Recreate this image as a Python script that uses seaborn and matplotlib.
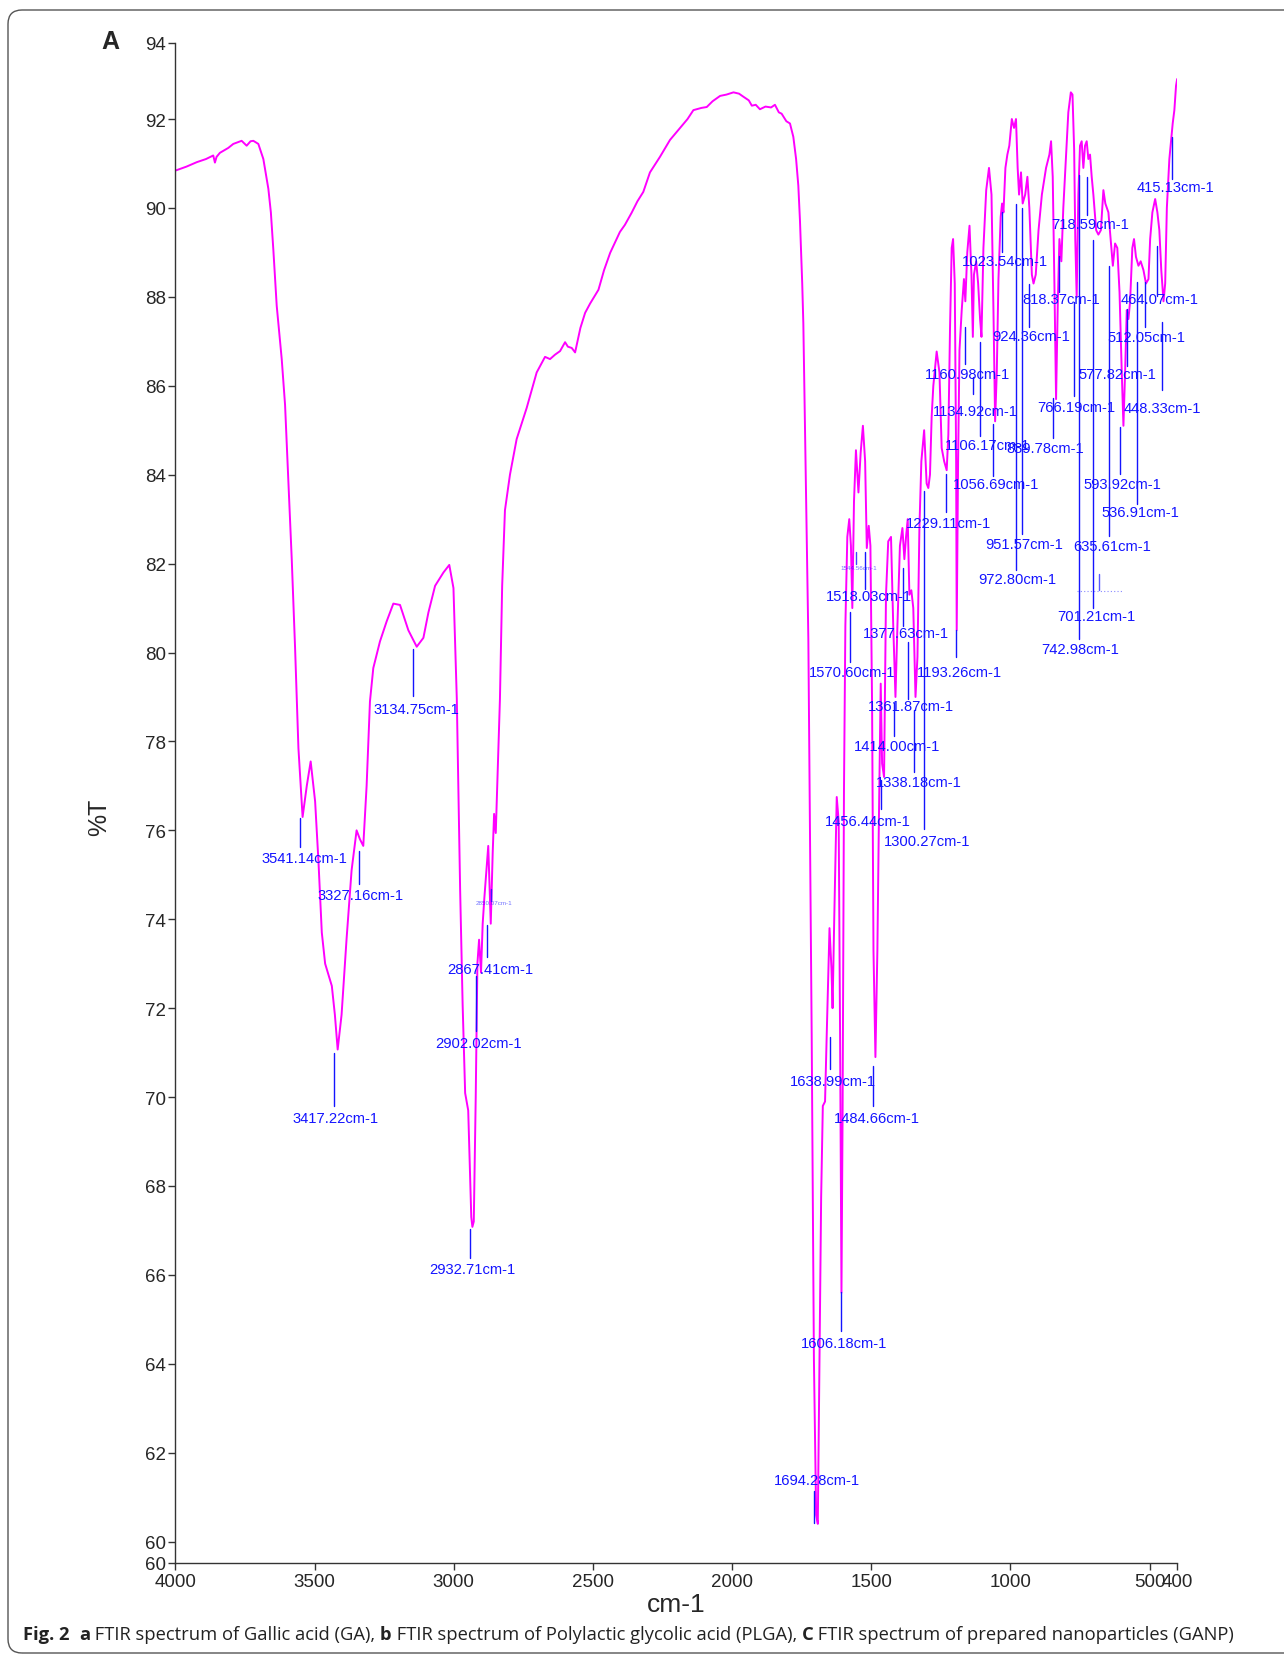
import numpy as np
import pandas as pd
import matplotlib
matplotlib.use("Agg")
import matplotlib.pyplot as plt
import seaborn as sns
from matplotlib.patches import FancyBboxPatch

# -------------------------------
# 1. Spectrum values (wavenumber cm-1, %T)
# -------------------------------
# baseline + O-H stretch
oh_wn = [4000, 3960, 3923, 3890, 3864, 3858, 3852, 3840, 3810, 3792, 3762, 3744, 3730, 3720,
         3702, 3684, 3666, 3657, 3648, 3636, 3618, 3606, 3594, 3582, 3570, 3558, 3543, 3528,
         3514, 3498, 3486, 3474, 3462, 3438, 3427, 3417, 3403, 3385, 3367, 3349, 3337, 3325,
         3313, 3301, 3289, 3265, 3241, 3217, 3193, 3163, 3133, 3109, 3091, 3067, 3037, 3016, 3001]
oh_t = [90.84, 90.93, 91.03, 91.10, 91.18, 91.02, 91.15, 91.24, 91.35, 91.44, 91.51, 91.40, 91.50, 91.51,
        91.44, 91.10, 90.43, 89.90, 89.05, 87.8, 86.6, 85.57, 83.85, 82.1, 80.1, 77.85, 76.3, 77.0,
        77.55, 76.65, 75.3, 73.7, 73.0, 72.5, 71.85, 71.07, 71.85, 73.56, 75.1, 76.0, 75.8, 75.65,
        77.0, 78.9, 79.65, 80.25, 80.7, 81.1, 81.07, 80.5, 80.13, 80.33, 80.9, 81.5, 81.8, 81.97, 81.45]

# C-H stretch
ch_wn = [2989, 2977, 2968, 2959, 2948, 2937, 2933, 2928, 2921, 2915, 2909, 2902, 2896, 2890,
         2876, 2867, 2860, 2855, 2849, 2834, 2826, 2816, 2798, 2774, 2738, 2702, 2672]
ch_t = [78.96, 74.66, 72.07, 70.09, 69.7, 67.3, 67.08, 67.2, 70.0, 73.0, 73.54, 72.8, 73.9, 74.48,
        75.65, 73.9, 75.5, 76.37, 75.94, 78.96, 81.5, 83.2, 84.0, 84.8, 85.5, 86.3, 86.65]

# broad plateau
plateau_wn = [2654, 2636, 2618, 2600, 2590, 2576, 2564, 2545, 2528, 2510, 2480, 2460, 2438, 2403,
              2385, 2361, 2340, 2319, 2295, 2259, 2223, 2187, 2160, 2139, 2110, 2091, 2070, 2043,
              2020, 1995, 1975, 1959, 1940, 1929, 1915, 1900, 1880, 1860, 1846, 1832, 1822, 1805,
              1792, 1780, 1770, 1762, 1756, 1748, 1744]
plateau_t = [86.6, 86.7, 86.78, 86.98, 86.88, 86.85, 86.75, 87.3, 87.64, 87.85, 88.16, 88.6, 88.99, 89.46,
             89.62, 89.89, 90.15, 90.36, 90.8, 91.15, 91.53, 91.8, 92.0, 92.2, 92.25, 92.27, 92.4, 92.52,
             92.55, 92.6, 92.57, 92.5, 92.42, 92.3, 92.32, 92.22, 92.28, 92.26, 92.32, 92.15, 92.12, 91.95,
             91.9, 91.6, 91.1, 90.5, 89.7, 88.3, 87.4]

# C=O / aromatic region
co_wn = [1738, 1732, 1726, 1714, 1706, 1698, 1692, 1686, 1680, 1674, 1666, 1660, 1650, 1643,
         1639, 1633, 1624, 1617, 1612, 1607, 1603, 1598, 1593, 1586, 1579, 1573, 1568, 1562,
         1555, 1546, 1538, 1530, 1522, 1516, 1509, 1503, 1497, 1492, 1485, 1478, 1473, 1466,
         1461, 1454, 1447, 1439, 1429, 1421, 1413, 1406, 1397, 1388, 1381, 1375, 1369, 1363,
         1356, 1349, 1341, 1334, 1327, 1320, 1310, 1301, 1295, 1289, 1283, 1277, 1265, 1255,
         1247, 1238, 1229, 1223, 1217, 1211, 1206, 1200, 1195, 1193, 1188]
co_t = [85.0, 82.5, 80.3, 71.4, 64.1, 60.6, 60.4, 64.1, 67.75, 69.8, 69.9, 71.4, 73.8, 72.9,
        72.0, 74.0, 76.75, 76.2, 71.4, 65.6, 69.6, 76.9, 80.6, 82.6, 83.0, 82.4, 81.0, 83.4,
        84.55, 83.6, 84.5, 85.1, 84.3, 82.35, 82.85, 82.4, 78.8, 73.3, 70.9, 73.3, 76.0, 79.3,
        77.5, 77.2, 81.3, 82.5, 82.6, 80.6, 79.0, 80.6, 82.4, 82.8, 82.1, 82.6, 83.0, 81.3,
        81.4, 81.0, 79.0, 79.9, 82.8, 84.3, 85.0, 83.8, 83.7, 84.0, 85.3, 86.0, 86.77, 86.3,
        84.6, 84.3, 84.1, 84.9, 87.3, 89.1, 89.3, 88.3, 84.3, 80.5, 84.3]

# fingerprint region
fp_wn = [1183, 1175, 1167, 1162, 1155, 1147, 1140, 1135, 1131, 1123, 1116, 1109, 1104, 1097,
         1087, 1077, 1068, 1061, 1055, 1049, 1043, 1035, 1030, 1025, 1018, 1011, 1004, 995,
         987, 980, 974, 969, 962, 956, 947, 939, 932, 923, 917, 909, 899, 887, 872, 860,
         854, 848, 842, 836, 830, 824, 817, 810, 800, 792, 783, 777, 771, 767, 762, 756,
         750, 744, 738, 732, 726, 720, 714, 708, 702, 692, 684, 675, 666, 659, 648, 640,
         632, 624, 616, 608, 600, 594, 588, 582, 576, 570, 562, 556, 549, 540, 532, 522,
         513, 504, 498, 490, 480, 472, 465, 458, 450, 444, 438, 429, 423, 417, 411, 405, 401]
fp_t = [86.8, 87.7, 88.4, 87.9, 89.0, 89.6, 88.5, 87.1, 88.5, 88.8, 88.3, 87.5, 87.1, 89.1,
        90.4, 90.9, 90.3, 87.7, 85.2, 86.3, 88.4, 89.8, 90.1, 89.9, 90.9, 91.2, 91.4, 92.0,
        91.8, 92.0, 90.9, 90.3, 90.8, 90.1, 90.3, 90.7, 90.0, 88.5, 88.3, 88.5, 89.5, 90.3, 90.9, 91.2,
        91.5, 90.7, 88.3, 85.7, 87.8, 89.3, 88.8, 90.0, 91.2, 92.15, 92.6, 92.55, 91.3, 89.3, 88.0, 90.3,
        91.4, 91.5, 90.9, 91.4, 91.5, 91.1, 91.2, 90.7, 90.3, 89.5, 89.4, 89.5, 90.4, 90.1, 89.9, 89.3,
        88.7, 89.2, 89.1, 88.1, 86.3, 85.1, 86.3, 87.7, 87.5, 87.9, 89.1, 89.3, 88.9, 88.7, 88.8, 88.6,
        88.3, 88.4, 89.3, 89.9, 90.2, 89.9, 89.5, 88.6, 87.9, 88.3, 90.0, 91.1, 91.5, 91.9, 92.2, 92.75, 92.9]

# peak labels printed on the spectrum
peak_values = [3541.14, 3327.16, 3417.22, 3134.75, 2867.41, 2902.02, 2932.71,
               1694.28, 1606.18, 1638.99, 1484.66, 1456.44, 1300.27, 1338.18, 1414.00,
               1361.87, 1570.60, 1193.26, 1377.63, 1518.03, 1229.11, 1056.69, 1106.17,
               1134.92, 1160.98, 1023.54, 924.36, 818.37, 766.19, 839.78, 951.57, 972.80,
               718.59, 415.13, 464.07, 512.05, 577.82, 448.33, 593.92, 536.91, 635.61,
               701.21, 742.98]
faint_values = [2850.07, 1544.56]

# label placement: text centre (wn, %T), marker line (wn, %T top, %T bottom)
label_text_pos = [(3538, 75.37), (3333, 74.54), (3424, 69.53), (3135, 78.74), (2870, 72.88),
                  (2912, 71.21), (2934, 66.13), (1694, 61.38), (1599, 64.47), (1637, 70.36),
                  (1481, 69.53), (1512, 76.20), (1299, 75.75), (1330, 77.08), (1409, 77.89),
                  (1356, 78.79), (1569, 79.57), (1182, 79.57), (1375, 80.43), (1508, 81.26),
                  (1223, 82.92), (1053, 83.78), (1083, 84.66), (1125, 85.44), (1155, 86.27),
                  (1018, 88.81), (927, 87.12), (817, 87.96), (764, 85.53), (874, 84.61),
                  (950, 82.45), (977, 81.66), (715, 89.64), (408, 90.47), (465, 87.96),
                  (510, 87.10), (616, 86.27), (453, 85.49), (597, 83.78), (533, 83.16),
                  (635, 82.40), (692, 80.83), (749, 80.09)]
label_line_pos = [(3553, 76.27, 75.63), (3340, 75.53, 74.80), (3431, 71.00, 69.81), (3147, 80.07, 79.03),
                  (2881, 73.87, 73.14), (2919, 72.73, 71.48), (2942, 67.03, 66.39), (1705, 61.14, 60.43),
                  (1610, 65.61, 64.73), (1648, 71.36, 70.64), (1493, 70.71, 69.81), (1466, 77.13, 76.49),
                  (1311, 83.63, 76.03), (1345, 78.70, 77.32), (1417, 78.86, 78.12), (1368, 80.24, 78.96),
                  (1576, 80.90, 79.79), (1197, 80.50, 79.91), (1386, 81.90, 80.59), (1523, 82.26, 81.42),
                  (1231, 84.01, 83.16), (1064, 85.15, 83.97), (1110, 86.98, 84.87), (1136, 86.20, 85.82),
                  (1163, 87.32, 86.48), (1030, 89.90, 89.00), (933, 88.29, 87.32), (825, 88.93, 88.12),
                  (772, 87.89, 85.77), (848, 85.72, 84.82), (958, 90.00, 82.66), (981, 90.09, 81.85),
                  (726, 90.69, 89.83), (419, 91.59, 90.64), (472, 89.14, 88.03), (518, 88.34, 87.32),
                  (582, 87.72, 86.44), (457, 87.43, 85.91), (605, 85.08, 84.01), (544, 88.34, 83.35),
                  (647, 88.69, 82.61), (704, 89.29, 81.00), (753, 90.73, 80.31)]
faint_text_pos = [(2855, 74.37), (1546, 81.92)]
faint_line_pos = [(2866, 74.68, 74.40), (1553, 82.26, 81.99)]

x_ticks = [4000, 3500, 3000, 2500, 2000, 1500, 1000, 500, 400]
y_ticks = [59.52, 60, 62, 64, 66, 68, 70, 72, 74, 76, 78, 80, 82, 84, 86, 88, 90, 92, 93.71]
y_tick_labels = ["60", "60", "62", "64", "66", "68", "70", "72", "74", "76", "78", "80",
                 "82", "84", "86", "88", "90", "92", "94"]

# -------------------------------
# 2. Build the frame
# -------------------------------
df = pd.DataFrame({
    "wn": oh_wn + ch_wn + plateau_wn + co_wn + fp_wn,
    "T": oh_t + ch_t + plateau_t + co_t + fp_t,
})

sns.set_style("ticks")
plt.rcParams['font.family'] = ['Liberation Sans', 'DejaVu Sans']

fig = plt.figure(figsize=(12.84, 16.56), dpi=100)
ax = fig.add_axes([0.1366, 0.05556, 0.7804, 0.91787])

sns.lineplot(data=df, x="wn", y="T", sort=False, estimator=None, color="#ff00ff",
             linewidth=1.4, ax=ax)

blue = "#1414ff"
for val, (tx, ty), (lx, l1, l2) in zip(peak_values, label_text_pos, label_line_pos):
    ax.plot([lx, lx], [l1, l2], color=blue, lw=1.0)
    ax.text(tx, ty, f"{val:.2f}cm-1", color=blue, fontsize=10.6, ha="center", va="center")
for val, (tx, ty), (lx, l1, l2) in zip(faint_values, faint_text_pos, faint_line_pos):
    ax.plot([lx, lx], [l1, l2], color=blue, lw=1.0, alpha=0.8)
    ax.text(tx, ty, f"{val:.2f}cm-1", color=blue, fontsize=4.5, ha="center", va="center", alpha=0.6)
# faint unreadable marker near 680 cm-1
ax.plot([681, 681], [81.76, 81.40], color=blue, lw=1.0, alpha=0.7)
ax.plot([760, 600], [81.38, 81.38], color=blue, lw=0.8, ls=(0, (1, 2)), alpha=0.5)

ax.set_xlim(4000, 400)
ax.set_ylim(59.52, 93.71)
ax.set_xticks(x_ticks)
ax.set_xticklabels([str(v) for v in x_ticks])
ax.set_yticks(y_ticks)
ax.set_yticklabels(y_tick_labels)
ax.tick_params(axis="both", labelsize=13.5, length=5, width=1, pad=2, color="#333333")
for side in ["top", "right"]:
    ax.spines[side].set_visible(False)
for side in ["left", "bottom"]:
    ax.spines[side].set_color("#333333")
    ax.spines[side].set_linewidth(1.0)

ax.set_xlabel("cm-1", fontsize=19)
ax.set_ylabel("%T", fontsize=18)
ax.xaxis.set_label_coords(0.5, -0.019)
ax.yaxis.set_label_coords(-0.064, 0.491)

fig.text(0.0857, 0.9746, "A", fontsize=18, fontweight="bold", ha="center", va="center")

# rounded panel border
border = FancyBboxPatch((8, 2), 1320, 1643, boxstyle="round,pad=0,rounding_size=14",
                        transform=None, fill=False, edgecolor="#555555", linewidth=1.0)
fig.add_artist(border)

# caption with bold parts
caption = [("Fig. 2", "bold"), ("  ", "normal"), ("a", "bold"),
           (" FTIR spectrum of Gallic acid (GA), ", "normal"), ("b", "bold"),
           (" FTIR spectrum of Polylactic glycolic acid (PLGA), ", "normal"), ("C", "bold"),
           (" FTIR spectrum of prepared nanoparticles (GANP)", "normal")]
renderer = fig.canvas.get_renderer()
target_w = 1212.0
size = 12.0
for _ in range(2):
    total = 0.0
    for s, w in caption:
        t = fig.text(0, 0, s, fontsize=size, fontweight=w, family=["Open Sans", "DejaVu Sans"])
        total += t.get_window_extent(renderer).width
        t.remove()
    size = size * target_w / total
x = 23.0
for s, w in caption:
    t = fig.text(x / 1284, 0.0125, s, fontsize=size, fontweight=w, va="center",
                 family=["Open Sans", "DejaVu Sans"], color="#222222")
    x += t.get_window_extent(renderer).width

fig.savefig("out.png", dpi=100)
